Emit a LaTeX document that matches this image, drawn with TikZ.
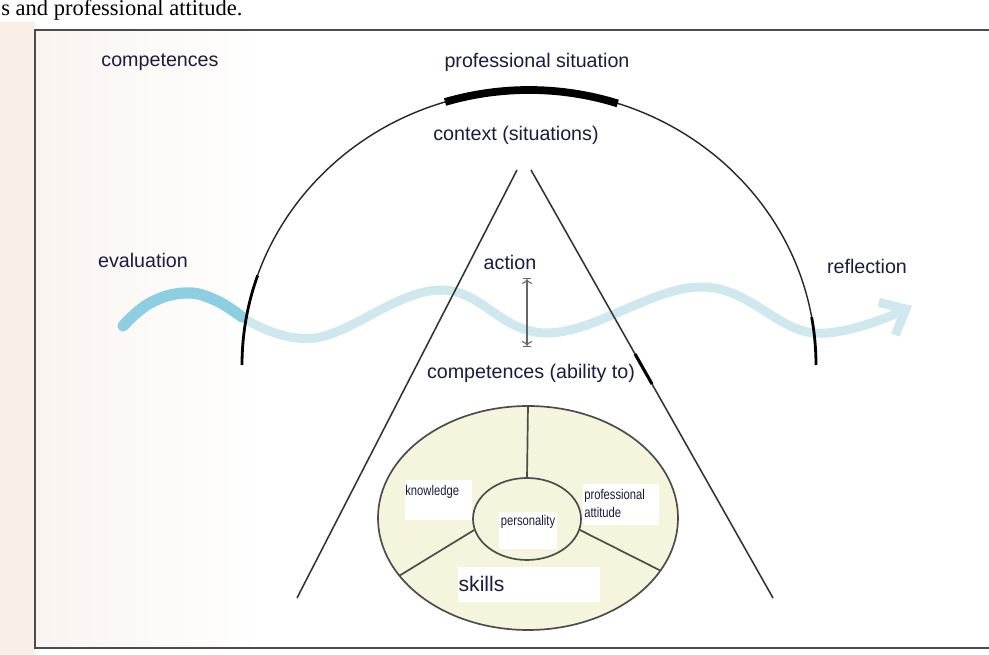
\documentclass[tikz,border=0pt]{standalone}
\usepackage{fontspec}
\usepackage{graphicx}
\setmainfont{Liberation Sans}
\newfontfamily\docfont{Liberation Serif}
\usetikzlibrary{arrows.meta,positioning,calc}

\definecolor{navy}{RGB}{28,28,62}
\definecolor{wavedark}{RGB}{140,206,226}
\definecolor{wavelight}{RGB}{206,232,238}
\definecolor{ringfill}{RGB}{244,245,220}
\definecolor{paper}{RGB}{248,239,233}

\tikzset{
  lbl/.style={text=navy, font=\fontsize{14}{16}\selectfont, inner sep=1pt},
  smalllbl/.style={text=navy, font=\fontsize{10}{12}\selectfont, inner sep=0pt, align=left},
  frameline/.style={line width=1.4pt},
  arcline/.style={draw=black!85, line width=1pt},
  thickarc/.style={draw=black, line width=5.5pt},
  sideline/.style={draw=black!80, line width=1.1pt},
  wave/.style={line width=6.4pt, line cap=round},
  ring/.style={draw=black!70, line width=1.2pt},
  actarrow/.style={draw=black!60, line width=0.8pt, |<->|}
}

\begin{document}
\begin{tikzpicture}[x=0.025cm, y=-0.025cm]
\useasboundingbox (0,0) rectangle (989,655);
\fill[white] (0,0) rectangle (989,655);
\fill[paper] (0,22) rectangle (35,655);
\shade[left color=paper!70, right color=white] (35,30) rectangle (260,648);

\node (header) [anchor=base west, font=\docfont\fontsize{16}{18}\selectfont, inner sep=0pt] at (1,16) {s and professional attitude.};

\draw[frameline, black!70] (989,30) -- (35,30) -- (35,648) -- (989,648);

\draw[wave, wavelight, -{Straight Barb[length=15pt,width=26pt]}]
  plot[smooth, tension=0.65] coordinates {(240,316) (315,338) (440,290) (548,333) (701,287) (814,333) (912,306)};
\draw[wave, wavedark, line width=8pt]
  plot[smooth, tension=0.7] coordinates {(123,326) (150,303) (185,293) (215,300) (242,317)};

\coordinate (ctr) at (529,365);
\draw[arcline] (ctr) ++(180:287 and 275) coordinate (arcL)
  arc[start angle=180, end angle=360, x radius=287, y radius=275] coordinate (arcR);
\draw[thickarc] (ctr) ++(253:287 and 275) arc[start angle=253, end angle=288, x radius=287, y radius=275];
\draw[draw=black, line width=2pt] (arcL) arc[start angle=180, end angle=199, x radius=287, y radius=275];
\draw[draw=black, line width=2pt] (arcR) arc[start angle=360, end angle=350, x radius=287, y radius=275];

\coordinate (apexL) at (517,170);
\coordinate (apexR) at (531,170);
\coordinate (footL) at (297,598);
\coordinate (footR) at (773,598);
\draw[sideline] (apexL) -- (footL);
\draw[sideline] (apexR) -- (footR);
\draw[line width=2.2pt] ($(apexR)!0.43!(footR)$) -- ($(apexR)!0.5!(footR)$);

\node (comp) [lbl] at (160,62) {competences};
\node (profsit) [lbl] at (537,62) {professional situation};
\node (context) [lbl, fill=white] at (516,135) {context (situations)};
\node (action) [lbl] at (510,262) {action};
\node (evaluation) [lbl] at (143,260) {evaluation};
\node (reflection) [lbl] at (867,266) {reflection};
\node (ability) [lbl, fill=white] at (531,373) {competences (ability to)};

\coordinate (actTop) at (527,278);
\coordinate (actBot) at (527,347);
\draw[actarrow] (actTop) -- (actBot);

\coordinate (ringC) at (528,518);
\coordinate (innerC) at (527,519);
\draw[ring, fill=ringfill] (ringC) ellipse [x radius=150, y radius=112];
\draw[ring, fill=ringfill] (innerC) ellipse [x radius=54, y radius=41];
\draw[ring] (innerC) ++(270:54 and 41) -- ($(ringC)+(270:150 and 112)$);
\draw[ring] (innerC) ++(165:54 and 41) -- ($(ringC)+(149:150 and 112)$);
\draw[ring] (innerC) ++(15:54 and 41) -- ($(ringC)+(28:150 and 112)$);

\fill[white] (405,480) rectangle (472,520);
\fill[white] (583,484) rectangle (659,525);
\fill[white] (499,512) rectangle (557,549);
\fill[white] (458,567) rectangle (600,602);

\node (knowledge) [smalllbl, anchor=north west] at (405,485) {\scalebox{0.8}[1]{knowledge}};
\node (profatt) [smalllbl, anchor=north west] at (584,489) {\scalebox{0.8}[1]{professional}\\[1pt]\scalebox{0.8}[1]{attitude}};
\node (personality) [smalllbl] at (528,522) {\scalebox{0.8}[1]{personality}};
\node (skills) [lbl, font=\fontsize{15}{17}\selectfont, anchor=west] at (457,584) {skills};
\end{tikzpicture}
\end{document}
